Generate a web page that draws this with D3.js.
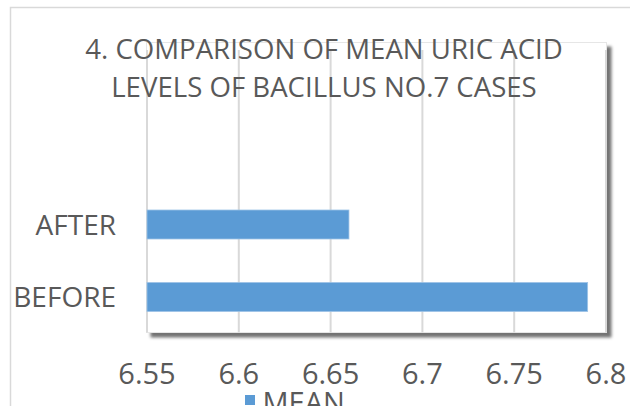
<!DOCTYPE html>
<html>
<head>
<meta charset="utf-8">
<script src="https://cdn.jsdelivr.net/npm/d3@7"></script>
<style>
  body { margin: 0; background: #fff; }
  text { font-family: "Open Sans", "Noto Sans", sans-serif; fill: #595959; }
</style>
</head>
<body>
<div id="chart"></div>
<script>
let titleLines = ["4. COMPARISON OF MEAN URIC ACID", "LEVELS OF BACILLUS NO.7 CASES"]
let categories = ["BEFORE", "AFTER"]
let meanValues = [6.79, 6.66]
let tickValues = [6.55, 6.6, 6.65, 6.7, 6.75, 6.8]
let seriesName = "MEAN"

function chartConfig(){
    let width = 630;
    let height = 406;
    let plot = { left: 146.5, right: 606.5, top: 42.5, bottom: 332.5 };
    let svg = d3.select("#chart")
                .append("svg")
                .attr("width", width)
                .attr("height", height);
    return { width, height, plot, svg };
}

function chartScales(config){
    let xScale = d3.scaleLinear()
                .domain([6.55, 6.8])
                .range([147, 606]);
    let yScale = d3.scaleBand()
                .domain(categories)
                .range([333.25, 188.25])
                .paddingInner(0.6)
                .paddingOuter(0.3);
    return { xScale, yScale };
}

function drawFrame(config){
    let { svg, plot } = config;
    // outer chart border (cropped, only top and left visible)
    svg.append("path")
        .attr("d", "M10.5,406 V7.5 H630")
        .attr("fill", "none")
        .attr("stroke", "#d9d9d9")
        .attr("stroke-width", 1.5);

    let defs = svg.append("defs");
    let f = defs.append("filter").attr("id", "shadow")
        .attr("x", "-5%").attr("y", "-5%").attr("width", "115%").attr("height", "115%");
    f.append("feDropShadow")
        .attr("dx", 4.5).attr("dy", 4.5)
        .attr("stdDeviation", 1.8)
        .attr("flood-color", "#000")
        .attr("flood-opacity", 0.55);

    svg.append("rect")
        .attr("x", plot.left)
        .attr("y", plot.top)
        .attr("width", plot.right - plot.left)
        .attr("height", plot.bottom - plot.top)
        .attr("fill", "#fff")
        .attr("stroke", "#e6e6e6")
        .attr("stroke-width", 1)
        .attr("filter", "url(#shadow)");
}

function drawChart(config, scales){
    let { svg, plot } = config;
    let { xScale, yScale } = scales;

    svg.append("g").selectAll("line")
        .data(tickValues)
        .enter()
        .append("line")
        .attr("x1", d => xScale(d))
        .attr("x2", d => xScale(d))
        .attr("y1", 50)
        .attr("y2", plot.bottom)
        .attr("stroke", "#d9d9d9")
        .attr("stroke-width", 2);

    svg.append("g").selectAll("rect")
        .data(categories)
        .enter()
        .append("rect")
        .attr("x", xScale(6.55))
        .attr("y", d => yScale(d))
        .attr("width", (d, i) => xScale(meanValues[i]) - xScale(6.55))
        .attr("height", yScale.bandwidth())
        .attr("fill", "#5b9bd5")
        .attr("stroke", "#9dc3e6")
        .attr("stroke-width", 0.8);

    // category labels
    svg.append("g").selectAll("text")
        .data(categories)
        .enter()
        .append("text")
        .attr("x", 116)
        .attr("y", d => yScale(d) + yScale.bandwidth() / 2 + 10.3)
        .attr("text-anchor", "end")
        .style("font-size", "28px")
        .text(d => d);

    // value axis tick labels
    svg.append("g").selectAll("text")
        .data(tickValues)
        .enter()
        .append("text")
        .attr("x", d => xScale(d))
        .attr("y", 384)
        .attr("text-anchor", "middle")
        .style("font-size", "29px")
        .text(d => d);

    // title
    svg.append("g").selectAll("text")
        .data(titleLines)
        .enter()
        .append("text")
        .attr("x", 324)
        .attr("y", (d, i) => 58.8 + i * 38.4)
        .attr("text-anchor", "middle")
        .style("font-size", "27.6px")
        .text(d => d);

    // legend
    let legend = svg.append("g");
    legend.append("rect")
        .attr("x", 245).attr("y", 395)
        .attr("width", 10).attr("height", 10)
        .attr("fill", "#5b9bd5");
    legend.append("text")
        .attr("x", 262.5).attr("y", 413.4)
        .style("font-size", "29px")
        .text(seriesName);
}

let config = chartConfig();
let scales = chartScales(config);
drawFrame(config);
drawChart(config, scales);
</script>
</body>
</html>
